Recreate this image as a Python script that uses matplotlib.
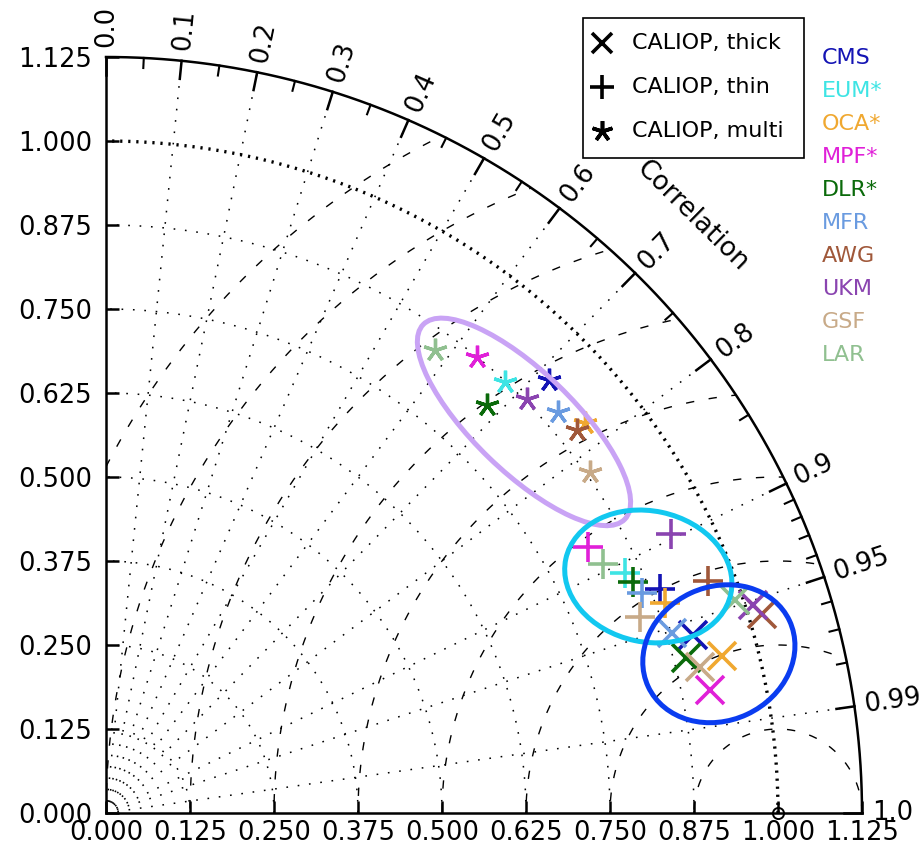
import numpy as np
import matplotlib
matplotlib.use("Agg")
import matplotlib.pyplot as plt
from matplotlib.patches import Circle, Ellipse, Rectangle
from matplotlib.lines import Line2D

plt.rcParams['font.family'] = ['DejaVu Sans']
plt.rcParams['lines.scale_dashes'] = False

# products and their colours
names = ['CMS', 'EUM*', 'OCA*', 'MPF*', 'DLR*', 'MFR', 'AWG', 'UKM', 'GSF', 'LAR']
colors = ['#1414b4', '#3ee4e4', '#f0a830', '#e020d8', '#0a6a0a',
          '#6a9be0', '#a0583a', '#8a44b0', '#c8aa88', '#90c090']

# normalised standard deviation and correlation against CALIOP
std_thick = [0.913, np.nan, 0.946, 0.917, 0.893, 0.884, 1.020, 1.012, 0.910, 0.988]
cor_thick = [0.957, np.nan, 0.969, 0.980, 0.966, 0.953, 0.957, 0.952, 0.971, 0.947]
std_thin = [0.889, 0.851, 0.889, 0.819, 0.856, 0.863, 0.960, 0.938, 0.847, 0.828]
cor_thin = [0.927, 0.908, 0.936, 0.875, 0.916, 0.925, 0.933, 0.897, 0.939, 0.894]
std_multi = [0.921, 0.874, 0.919, 0.875, 0.831, 0.900, 0.904, 0.878, 0.881, 0.845]
cor_multi = [0.715, 0.680, 0.776, 0.631, 0.683, 0.748, 0.776, 0.713, 0.817, 0.580]

# grid definition
smax = 1.125
std_ticks = np.arange(0, smax + 0.001, 0.125)
cor_major = [0.0, 0.1, 0.2, 0.3, 0.4, 0.5, 0.6, 0.7, 0.8, 0.9, 0.95, 0.99, 1.0]
cor_minor = [0.05, 0.15, 0.25, 0.35, 0.45, 0.55, 0.65, 0.75, 0.85,
             0.91, 0.92, 0.93, 0.94, 0.96, 0.97, 0.98]
cor_lines = [0.1, 0.2, 0.3, 0.4, 0.5, 0.6, 0.7, 0.8, 0.9, 0.95, 0.99]
rms_radii = np.arange(0.125, smax + 0.001, 0.125)

# groups circled on the diagram: centre x, centre y, width, height, angle
groups = [(0.622, 0.582, 0.417, 0.149, -44, '#c9a3f5'),
          (0.807, 0.352, 0.251, 0.195, -12, '#12c8f0'),
          (0.912, 0.237, 0.232, 0.199, 25, '#0a3cf0')]


def to_xy(std, cor):
    std = np.asarray(std, dtype=float)
    theta = np.arccos(np.asarray(cor, dtype=float))
    return std * np.cos(theta), std * np.sin(theta)


fig = plt.figure(figsize=(9.19, 8.5), dpi=100)
ax = fig.add_axes([106 / 919, 37 / 850, 756 / 919, 756 / 850])
ax.set_xlim(0, smax)
ax.set_ylim(0, smax)

for side in ['top', 'right']:
    ax.spines[side].set_visible(False)
for side in ['left', 'bottom']:
    ax.spines[side].set_linewidth(1.8)

ax.set_xticks(std_ticks)
ax.set_yticks(std_ticks)
ax.set_xticklabels(['%.3f' % v for v in std_ticks])
ax.set_yticklabels(['%.3f' % v for v in std_ticks])
ax.tick_params(axis='both', direction='in', length=9, width=1.8, labelsize=18.5)
ax.tick_params(axis='y', pad=10)
ax.tick_params(axis='x', pad=5)

t = np.linspace(0, np.pi / 2, 400)
dot = (0, (1.2, 7.0))
dash = (0, (6, 10.5))

# std dev arcs around the origin
for r in std_ticks[1:-1]:
    if abs(r - 1.0) < 1e-6:
        ax.plot(r * np.cos(t), r * np.sin(t), color='k', lw=2.4,
                linestyle=(0, (1.6, 4.2)), zorder=2)
    else:
        ax.plot(r * np.cos(t), r * np.sin(t), color='k', lw=1.1,
                linestyle=dot, zorder=1)

# correlation rays
for c in cor_lines:
    th = np.arccos(c)
    ax.plot([0, smax * np.cos(th)], [0, smax * np.sin(th)], color='k',
            lw=1.1, linestyle=dot, zorder=1)

# centred RMS difference arcs around the reference point
clip = Circle((0, 0), smax, transform=ax.transData)
tt = np.linspace(0, np.pi, 600)
for r in rms_radii:
    ln, = ax.plot(1 + r * np.cos(tt), r * np.sin(tt), color='k', lw=1.0,
                  linestyle=dash, zorder=1)
    ln.set_clip_path(clip)

# outer boundary and correlation ticks
ax.plot(smax * np.cos(t), smax * np.sin(t), color='k', lw=1.8, clip_on=False)
for c in cor_major:
    th = np.arccos(c)
    ax.plot([smax * np.cos(th), (smax - 0.027) * np.cos(th)],
            [smax * np.sin(th), (smax - 0.027) * np.sin(th)],
            color='k', lw=1.8, clip_on=False)
    lab = '%.2f' % c if c in (0.95, 0.99) else '%.1f' % c
    ax.text(1.14 * np.cos(th), 1.14 * np.sin(th), lab, fontsize=18.5,
            rotation=np.degrees(th), rotation_mode='anchor',
            ha='left', va='center')
for c in cor_minor:
    th = np.arccos(c)
    ax.plot([smax * np.cos(th), (smax - 0.015) * np.cos(th)],
            [smax * np.sin(th), (smax - 0.015) * np.sin(th)],
            color='k', lw=1.5, clip_on=False)

th = np.radians(45.5)
ax.text(1.245 * np.cos(th), 1.245 * np.sin(th), 'Correlation', fontsize=19,
        rotation=45.5 - 90, rotation_mode='anchor', ha='center', va='center')

# reference point
ax.plot([1.0], [0.0], 'o', mfc='none', mec='k', ms=8, mew=1.4,
        clip_on=False, zorder=6)

# product markers
for i, col in enumerate(colors):
    x, y = to_xy(std_thick[i], cor_thick[i])
    ax.plot(x, y, 'x', color=col, ms=20, mew=2.6, zorder=4)
for i, col in enumerate(colors):
    x, y = to_xy(std_thin[i], cor_thin[i])
    ax.plot(x, y, '+', color=col, ms=21, mew=2.6, zorder=4)
for i, col in enumerate(colors):
    x, y = to_xy(std_multi[i], cor_multi[i])
    ax.plot(x, y, marker=(5, 2, 0), color=col, ms=17, mew=2.4, zorder=4)

for cx, cy, w, h, ang, col in groups:
    ax.add_patch(Ellipse((cx, cy), w, h, angle=ang, fill=False,
                         edgecolor=col, lw=3.6, zorder=5))

# key panel, laid out in pixels
key = fig.add_axes([0, 0, 1, 1])
key.set_xlim(0, 919)
key.set_ylim(850, 0)
key.axis('off')

key.add_patch(Rectangle((583, 18), 221, 140, facecolor='white',
                        edgecolor='k', lw=1.2))
key_marks = [('x', 15, 'CALIOP, thick'), ('+', 17, 'CALIOP, thin'),
             ((5, 2, 0), 15, 'CALIOP, multi')]
for j, (m, ms, lab) in enumerate(key_marks):
    yy = 43 + 44 * j
    key.plot([602], [yy], marker=m, color='k', ms=ms, mew=2.6, ls='none')
    key.text(632, yy, lab, fontsize=16, ha='left', va='center')

for i, (nm, col) in enumerate(zip(names, colors)):
    key.text(822, 58 + 33.0 * i, nm, color=col, fontsize=16,
             ha='left', va='center')

fig.savefig('out.png', dpi=100)
